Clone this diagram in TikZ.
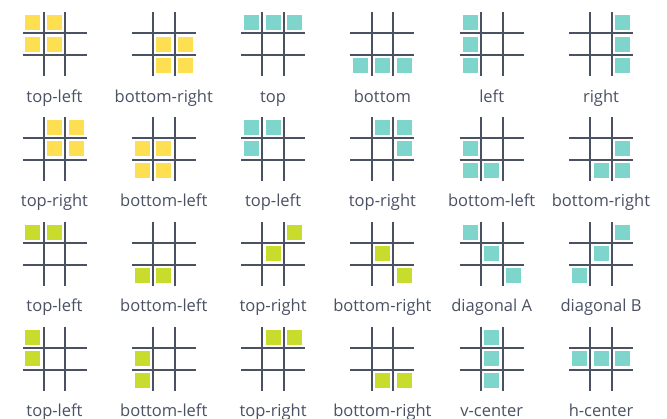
\documentclass[tikz,border=0pt]{standalone}
\usepackage{fontspec}
\setmainfont{Open Sans}
\definecolor{linec}{HTML}{4A5163}
\definecolor{textc}{HTML}{4A5163}
\definecolor{yel}{HTML}{FFDF52}
\definecolor{teal}{HTML}{7DD5CC}
\definecolor{lime}{HTML}{C8DC2E}
\tikzset{
  gl/.style={draw=linec, line width=2pt},
  sq/.style={minimum size=15pt, inner sep=0pt, outer sep=0pt, fill=#1, draw=none},
  lbl/.style={font=\fontsize{16.5}{19}\selectfont, text=textc, inner sep=0pt, anchor=base},
}
\newcommand\tgrid[6]{%
  \begin{scope}[shift={(#2,#3)}]
    \draw[gl] (-10.8,-32) -- (-10.8,32);
    \draw[gl] (10.8,-32) -- (10.8,32);
    \draw[gl] (-32,-10.8) -- (32,-10.8);
    \draw[gl] (-32,10.8) -- (32,10.8);
    \foreach \c/\r in {#5} \node[sq=#4] (#1-\c\r) at ({(\c-1)*21.6},{(\r-1)*21.6}) {};
    \node[lbl] (#1-lbl) at (0,58) {#6};
  \end{scope}}
\begin{document}
\begin{tikzpicture}[x=1pt,y=-1pt]
\useasboundingbox[fill=white] (0,0) rectangle (667,418);
% row 1
\tgrid{a1}{54.5}{44}{yel}{0/0,1/0,0/1,1/1}{top-left}
\tgrid{a2}{163.8}{44}{yel}{1/1,2/1,1/2,2/2}{bottom-right}
\tgrid{a3}{273.1}{44}{teal}{0/0,1/0,2/0}{top}
\tgrid{a4}{382.4}{44}{teal}{0/2,1/2,2/2}{bottom}
\tgrid{a5}{491.7}{44}{teal}{0/0,0/1,0/2}{left}
\tgrid{a6}{601}{44}{teal}{2/0,2/1,2/2}{right}
% row 2
\tgrid{b1}{54.5}{148.9}{yel}{1/0,2/0,1/1,2/1}{top-right}
\tgrid{b2}{163.8}{148.9}{yel}{0/1,1/1,0/2,1/2}{bottom-left}
\tgrid{b3}{273.1}{148.9}{teal}{0/0,1/0,0/1}{top-left}
\tgrid{b4}{382.4}{148.9}{teal}{1/0,2/0,2/1}{top-right}
\tgrid{b5}{491.7}{148.9}{teal}{0/1,0/2,1/2}{bottom-left}
\tgrid{b6}{601}{148.9}{teal}{2/1,1/2,2/2}{bottom-right}
% row 3
\tgrid{c1}{54.5}{253.8}{lime}{0/0,1/0}{top-left}
\tgrid{c2}{163.8}{253.8}{lime}{0/2,1/2}{bottom-left}
\tgrid{c3}{273.1}{253.8}{lime}{2/0,1/1}{top-right}
\tgrid{c4}{382.4}{253.8}{lime}{1/1,2/2}{bottom-right}
\tgrid{c5}{491.7}{253.8}{teal}{0/0,1/1,2/2}{diagonal A}
\tgrid{c6}{601}{253.8}{teal}{2/0,1/1,0/2}{diagonal B}
% row 4
\tgrid{d1}{54.5}{358.7}{lime}{0/0,0/1}{top-left}
\tgrid{d2}{163.8}{358.7}{lime}{0/1,0/2}{bottom-left}
\tgrid{d3}{273.1}{358.7}{lime}{1/0,2/0}{top-right}
\tgrid{d4}{382.4}{358.7}{lime}{1/2,2/2}{bottom-right}
\tgrid{d5}{491.7}{358.7}{teal}{1/0,1/1,1/2}{v-center}
\tgrid{d6}{601}{358.7}{teal}{0/1,1/1,2/1}{h-center}
\end{tikzpicture}
\end{document}
